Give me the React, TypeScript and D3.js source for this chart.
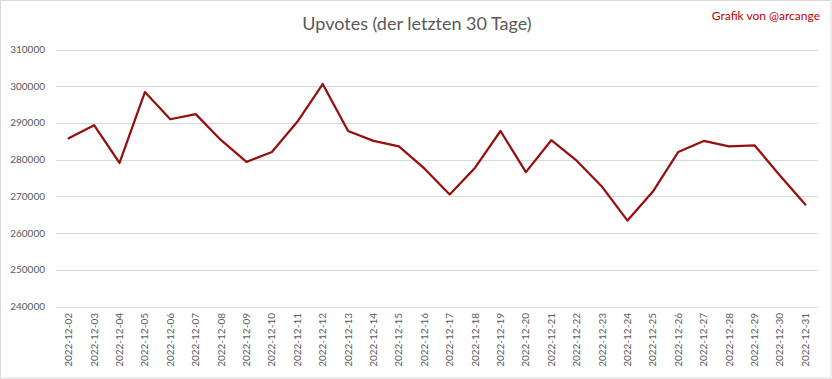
import React from "react";
import * as d3 from "d3";

const dates = [
  "2022-12-02","2022-12-03","2022-12-04","2022-12-05","2022-12-06","2022-12-07",
  "2022-12-08","2022-12-09","2022-12-10","2022-12-11","2022-12-12","2022-12-13",
  "2022-12-14","2022-12-15","2022-12-16","2022-12-17","2022-12-18","2022-12-19",
  "2022-12-20","2022-12-21","2022-12-22","2022-12-23","2022-12-24","2022-12-25",
  "2022-12-26","2022-12-27","2022-12-28","2022-12-29","2022-12-30","2022-12-31",
];
const upvotes = [
  285800, 289400, 279100, 298400, 291000, 292400,
  285300, 279400, 282100, 290300, 300600, 287800,
  285100, 283600, 277600, 270500, 277800, 287800,
  276600, 285300, 279700, 272600, 263400, 271300,
  282100, 285100, 283600, 283900, 275700, 267800,
];
const yTicks = [240000, 250000, 260000, 270000, 280000, 290000, 300000, 310000];

const W = 832, H = 379;
const left = 56, right = 818, top = 49.5, bottom = 306.5;
const font = "Lato, 'Open Sans', sans-serif";

export default function App() {
  const x = d3.scaleBand<string>().domain(dates).range([left, right]);
  const y = d3.scaleLinear().domain([240000, 310000]).range([bottom, top]);
  const line = d3.line<number>()
    .x((_, i) => (x(dates[i]) as number) + x.bandwidth() / 2)
    .y((d) => y(d));
  return (
    <svg width={W} height={H} style={{ position: "absolute", left: 0, top: 0, background: "#fff" }}>
      <rect x={0.5} y={0.5} width={W - 1.5} height={H - 1.5} fill="#fff" stroke="#d9d9d9" />
      <text x={417} y={30} textAnchor="middle" fontFamily={font} fontSize={18} fill="#595959">
        Upvotes (der letzten 30 Tage)
      </text>
      <text x={820} y={20} textAnchor="end" fontFamily={font} fontSize={12} fill="#C00000">
        Grafik von @arcange
      </text>
      {yTicks.map((t) => (
        <g key={t}>
          <line x1={left} x2={right} y1={Math.round(y(t)) + 0.5} y2={Math.round(y(t)) + 0.5} stroke="#d9d9d9" strokeWidth={1} />
          <text x={45} y={y(t) + 3.5} textAnchor="end" fontFamily={font} fontSize={10} fill="#595959">
            {t}
          </text>
        </g>
      ))}
      {dates.map((d) => {
        const cx = (x(d) as number) + x.bandwidth() / 2;
        return (
          <text key={d} transform={`translate(${cx + 3.5},313) rotate(-90)`} textAnchor="end"
            fontFamily={font} fontSize={10} fill="#595959">
            {d}
          </text>
        );
      })}
      <path d={line(upvotes) || ""} fill="none" stroke="#960f0f" strokeWidth={2.25} strokeLinejoin="round" strokeLinecap="round" />
    </svg>
  );
}
